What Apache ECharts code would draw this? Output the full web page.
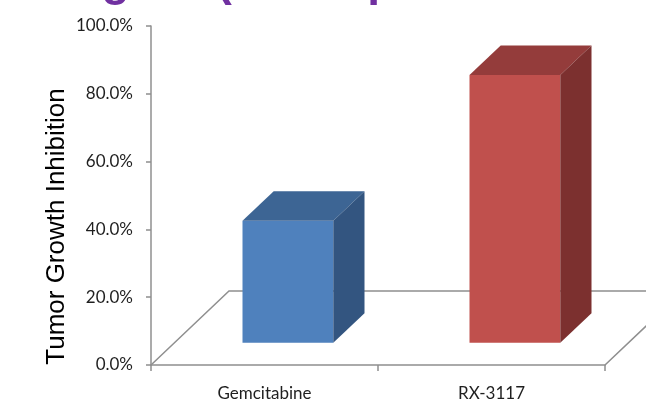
<!DOCTYPE html>
<html>
<head>
<meta charset="utf-8">
<title>Tumor Growth Inhibition</title>
<script src="https://cdn.jsdelivr.net/npm/echarts@6/dist/echarts.min.js"></script>
<style>
  html, body { margin: 0; padding: 0; background: #ffffff; }
  #chart { width: 646px; height: 402px; }
</style>
</head>
<body>
<div id="chart"></div>
<script>
// Treatments and their tumor growth inhibition (percent)
const categories = ['Gemcitabine', 'RX-3117'];
const inhibition = [36, 79];
const yTickValues = [0, 20, 40, 60, 80, 100];

// Face shading of each 3D box: front, top, side
const faceColors = [
  { front: '#4F81BD', top: '#3D6594', side: '#335580' },
  { front: '#C0504D', top: '#943C3B', side: '#7C302F' }
];

// Oblique projection of the floor depth (pixels) and where the boxes sit in it
const DEPTH_X = 78;
const DEPTH_Y = -74;
const BAR_NEAR = 0.3;
const BAR_FAR = 0.7;
const BAR_WIDTH = 0.4; // share of a category band

const LINE_COLOR = '#8f8f8f';
const LABEL_FONT = 'Lato, "Liberation Sans Narrow", Roboto, sans-serif';

const chart = echarts.init(document.getElementById('chart'), null, { renderer: 'canvas' });

// Floor outline behind the boxes: left side, back edge and right side
function renderFloor(params, api) {
  const band = api.size([1, 0])[0];
  const first = api.coord([0, 0]);
  const last = api.coord([categories.length - 1, 0]);
  const x0 = first[0] - band / 2;
  const x1 = last[0] + band / 2;
  const y = first[1];
  return {
    type: 'polyline',
    shape: {
      points: [
        [x0, y],
        [x0 + DEPTH_X, y + DEPTH_Y],
        [x1 + DEPTH_X, y + DEPTH_Y],
        [x1, y]
      ]
    },
    style: { stroke: LINE_COLOR, lineWidth: 1.5, fill: null }
  };
}

// One 3D box per category, sized from its value on the y scale
function renderBox(params, api) {
  const idx = api.value(0);
  const val = api.value(1);
  const band = api.size([1, 0])[0];
  const base = api.coord([idx, 0]);
  const top = api.coord([idx, val]);
  const w = band * BAR_WIDTH;
  const L = base[0] - w / 2 + DEPTH_X * BAR_NEAR;
  const R = L + w;
  const B = base[1] + DEPTH_Y * BAR_NEAR;
  const T = top[1] + DEPTH_Y * BAR_NEAR;
  const dx = DEPTH_X * (BAR_FAR - BAR_NEAR);
  const dy = DEPTH_Y * (BAR_FAR - BAR_NEAR);
  const c = faceColors[idx % faceColors.length];
  return {
    type: 'group',
    children: [
      {
        type: 'polygon',
        shape: { points: [[L, T], [R, T], [R, B], [L, B]] },
        style: { fill: c.front }
      },
      {
        type: 'polygon',
        shape: { points: [[L, T], [L + dx, T + dy], [R + dx, T + dy], [R, T]] },
        style: { fill: c.top }
      },
      {
        type: 'polygon',
        shape: { points: [[R, T], [R + dx, T + dy], [R + dx, B + dy], [R, B]] },
        style: { fill: c.side }
      }
    ]
  };
}

const option = {
  backgroundColor: '#ffffff',
  animation: false,
  grid: {
    left: 151,
    right: 41,
    top: 26,
    bottom: 37,
    containLabel: false,
    outerBoundsMode: 'none'
  },
  xAxis: {
    type: 'category',
    data: categories,
    boundaryGap: true,
    axisLine: { show: true, lineStyle: { color: LINE_COLOR, width: 1.5 } },
    axisTick: { show: true, length: 6, alignWithLabel: false, lineStyle: { color: LINE_COLOR, width: 1.5 } },
    axisLabel: {
      margin: 20,
      color: '#1f1f1f',
      fontFamily: LABEL_FONT,
      fontSize: 17
    },
    splitLine: { show: false }
  },
  yAxis: {
    type: 'value',
    min: yTickValues[0],
    max: yTickValues[yTickValues.length - 1],
    interval: yTickValues[1] - yTickValues[0],
    axisLine: { show: true, lineStyle: { color: LINE_COLOR, width: 1.5 } },
    axisTick: { show: true, length: 5, lineStyle: { color: LINE_COLOR, width: 1.5 } },
    axisLabel: {
      margin: 18,
      color: '#1f1f1f',
      fontFamily: LABEL_FONT,
      fontSize: 17,
      formatter: (v) => v.toFixed(1) + '%'
    },
    splitLine: { show: false }
  },
  graphic: [
    {
      type: 'text',
      x: -11,
      y: -18,
      style: {
        text: 'Xenograft (in the pancreatic tumor model)',
        font: 'bold 46px "Liberation Sans", Arial, sans-serif',
        fill: '#7030A0',
        align: 'left',
        verticalAlign: 'middle'
      }
    },
    {
      type: 'text',
      x: 57,
      y: 226.5,
      rotation: Math.PI / 2,
      style: {
        text: 'Tumor Growth Inhibition',
        font: '26px "Liberation Sans", Arial, sans-serif',
        fill: '#000000',
        align: 'center',
        verticalAlign: 'middle'
      }
    }
  ],
  series: [
    {
      type: 'custom',
      name: 'floor',
      renderItem: renderFloor,
      data: [[0, 0]],
      silent: true,
      clip: false,
      z: 1
    },
    {
      type: 'custom',
      name: 'Tumor Growth Inhibition',
      renderItem: renderBox,
      data: inhibition.map((v, i) => [i, v]),
      clip: false,
      z: 2
    }
  ]
};

chart.setOption(option);
</script>
</body>
</html>
